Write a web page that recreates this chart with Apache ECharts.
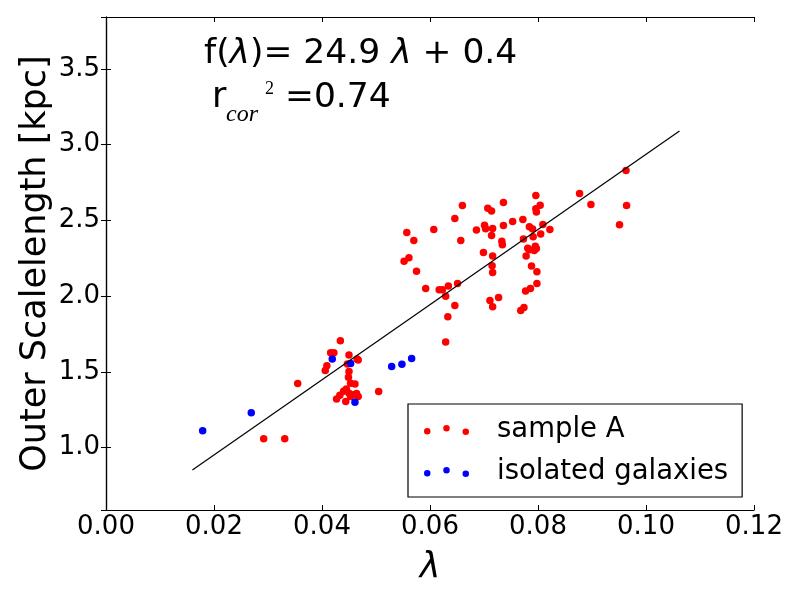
<!DOCTYPE html>
<html>
<head>
<meta charset="utf-8">
<title>Outer Scalelength vs lambda</title>
<script src="https://cdn.jsdelivr.net/npm/echarts@6/dist/echarts.min.js"></script>
<style>
    html, body { margin: 0; padding: 0; background: #fff; }
    #main { width: 800px; height: 600px; }
</style>
</head>
<body>
<div id="main"></div>
<script>
// sample A (red)
var sampleX = [0.0660, 0.0707, 0.0714, 0.0646, 0.0557, 0.0607, 0.0570, 0.0657, 0.0686, 0.0701,
    0.0703, 0.0716, 0.0714, 0.0736, 0.0736, 0.0733, 0.0734, 0.0552, 0.0561, 0.0575,
    0.0699, 0.0716, 0.0715, 0.0716, 0.0592, 0.0617, 0.0623, 0.0634, 0.0651, 0.0629,
    0.0646, 0.0633, 0.0711, 0.0716, 0.0727, 0.0629, 0.0963, 0.0877, 0.0898, 0.0964,
    0.0951, 0.0796, 0.0804, 0.0796, 0.0797, 0.0753, 0.0772, 0.0784, 0.0790, 0.0809,
    0.0822, 0.0805, 0.0791, 0.0773, 0.0781, 0.0784, 0.0793, 0.0795, 0.0797, 0.0778,
    0.0788, 0.0798, 0.0798, 0.0777, 0.0786, 0.0768, 0.0774, 0.0434, 0.0416, 0.0422,
    0.0450, 0.0465, 0.0467, 0.0447, 0.0409, 0.0406, 0.0450, 0.0449, 0.0453, 0.0461,
    0.0445, 0.0440, 0.0433, 0.0427, 0.0450, 0.0457, 0.0464, 0.0453, 0.0467, 0.0444,
    0.0355, 0.0505, 0.0292, 0.0331];
var sampleY = [2.598, 2.580, 2.563, 2.513, 2.421, 2.440, 2.367, 2.367, 2.437, 2.469,
    2.445, 2.446, 2.400, 2.618, 2.466, 2.363, 2.340, 2.230, 2.254, 2.164,
    2.289, 2.266, 2.201, 2.157, 2.050, 2.042, 2.042, 2.068, 2.083, 2.000,
    1.938, 1.865, 1.972, 1.931, 1.991, 1.698, 2.830, 2.678, 2.605, 2.598,
    2.472, 2.664, 2.601, 2.577, 2.555, 2.493, 2.506, 2.458, 2.443, 2.473,
    2.440, 2.410, 2.392, 2.378, 2.317, 2.306, 2.301, 2.330, 2.314, 2.266,
    2.200, 2.162, 2.083, 2.035, 2.050, 1.905, 1.925, 1.705, 1.627, 1.627,
    1.612, 1.586, 1.579, 1.553, 1.540, 1.509, 1.502, 1.465, 1.425, 1.421,
    1.388, 1.373, 1.346, 1.322, 1.359, 1.350, 1.357, 1.337, 1.337, 1.304,
    1.423, 1.370, 1.059, 1.059];

// isolated galaxies (blue)
var isoX = [0.0179, 0.0269, 0.0419, 0.0453, 0.0461, 0.0529, 0.0548, 0.0566];
var isoY = [1.112, 1.231, 1.586, 1.555, 1.300, 1.535, 1.551, 1.588];

// fit line end points
var fitX = [0.0160, 0.1062];
var fitY = [0.853, 3.090];

var seriesNames = ['sample A', 'isolated galaxies'];

function pairs(xs, ys) {
    var res = [];
    for (var i = 0; i < xs.length; i++) {
        res.push([xs[i], ys[i]]);
    }
    return res;
}

var FONT = 'DejaVu Sans';
// three dots, middle one raised a bit (like matplotlib scatter legend)
var dotsIcon = 'path://M0,6.25a3.25,3.25 0 1,0 6.5,0a3.25,3.25 0 1,0 -6.5,0Z' +
    'M19.25,3.25a3.25,3.25 0 1,0 6.5,0a3.25,3.25 0 1,0 -6.5,0Z' +
    'M38.5,6.75a3.25,3.25 0 1,0 6.5,0a3.25,3.25 0 1,0 -6.5,0Z';

var yMin = 0.5885, yMax = 3.843;

var tickStyle = { show: true, inside: true, length: 5, lineStyle: { color: '#000', width: 1 } };
var lineStyle = { show: true, lineStyle: { color: '#000', width: 1.2 } };

var myChart = echarts.init(document.getElementById('main'), null, { renderer: 'canvas' });
var option = {
    backgroundColor: '#fff',
    animation: false,
    textStyle: { fontFamily: FONT },
    grid: {
        left: 106, top: 17, width: 648, height: 493,
        containLabel: false,
        outerBoundsMode: 'none'
    },
    legend: {
        data: seriesNames,
        orient: 'vertical',
        left: 408,
        top: 404,
        icon: dotsIcon,
        itemWidth: 45,
        itemHeight: 10,
        itemGap: 14,
        padding: [12, 14, 11, 16],
        borderColor: '#000',
        borderWidth: 1.2,
        borderRadius: 0,
        backgroundColor: '#fff',
        textStyle: {
            fontFamily: FONT,
            fontSize: 27.5,
            lineHeight: 28,
            color: '#000',
            padding: [0, 0, 0, 23]
        }
    },
    xAxis: [
        {
            type: 'value',
            min: 0, max: 0.12, interval: 0.02,
            name: 'λ',
            nameLocation: 'middle',
            nameGap: 40,
            nameMoveOverlap: false,
            nameTextStyle: { fontFamily: FONT, fontSize: 35, fontStyle: 'italic', color: '#000' },
            axisLine: lineStyle,
            axisTick: tickStyle,
            splitLine: { show: false },
            axisLabel: {
                color: '#000', fontFamily: FONT, fontSize: 26, margin: 4,
                formatter: function (v) { return v.toFixed(2); }
            }
        },
        {
            type: 'value', position: 'top',
            min: 0, max: 0.12, interval: 0.02,
            axisLine: lineStyle,
            axisTick: tickStyle,
            splitLine: { show: false },
            axisLabel: { show: false }
        }
    ],
    yAxis: [
        {
            type: 'value',
            min: yMin, max: yMax,
            name: 'Outer Scalelength [kpc]',
            nameLocation: 'middle',
            nameGap: 53,
            nameMoveOverlap: false,
            nameTextStyle: { fontFamily: FONT, fontSize: 35, color: '#000' },
            axisLine: lineStyle,
            axisTick: tickStyle,
            splitLine: { show: false },
            axisLabel: {
                color: '#000', fontFamily: FONT, fontSize: 26, margin: 6,
                showMinLabel: false, showMaxLabel: false,
                formatter: function (v) {
                    if (Math.abs(v * 2 - Math.round(v * 2)) > 1e-6) return '';
                    return v.toFixed(1);
                }
            }
        },
        {
            type: 'value', position: 'right',
            min: yMin, max: yMax,
            axisLine: lineStyle,
            axisTick: tickStyle,
            splitLine: { show: false },
            axisLabel: { show: false }
        }
    ],
    series: [
        {
            name: seriesNames[0],
            type: 'scatter',
            symbol: 'circle',
            symbolSize: 7.5,
            itemStyle: { color: '#ff0000', opacity: 1 },
            data: pairs(sampleX, sampleY),
            z: 2
        },
        {
            name: seriesNames[1],
            type: 'scatter',
            symbol: 'circle',
            symbolSize: 7.5,
            itemStyle: { color: '#0000ff', opacity: 1 },
            data: pairs(isoX, isoY),
            z: 3
        },
        {
            name: 'fit',
            type: 'line',
            showSymbol: false,
            symbol: 'none',
            lineStyle: { color: '#000', width: 1.2 },
            data: pairs(fitX, fitY),
            z: 4
        }
    ],
    graphic: [
        {
            type: 'text', x: 204, y: 54,
            style: {
                text: '{n|f(}{l|λ}{n|)= 24.9 }{l|λ}{n| + 0.4}',
                fill: '#000',
                verticalAlign: 'middle',
                rich: {
                    n: { fontFamily: FONT, fontSize: 34.5, fill: '#000' },
                    l: { fontFamily: FONT, fontSize: 34.5, fontStyle: 'italic', fill: '#000' }
                }
            }
        },
        {
            type: 'text', x: 212, y: 98,
            style: { text: 'r', fontFamily: FONT, fontSize: 35, fill: '#000', verticalAlign: 'middle' }
        },
        {
            type: 'text', x: 226, y: 115,
            style: { text: 'cor', fontFamily: 'Liberation Serif', fontSize: 24, fontStyle: 'italic', fill: '#000', verticalAlign: 'middle' }
        },
        {
            type: 'text', x: 265, y: 89,
            style: { text: '2', fontFamily: 'Liberation Serif', fontSize: 18, fill: '#000', verticalAlign: 'middle' }
        },
        {
            type: 'text', x: 285, y: 98,
            style: { text: '=0.74', fontFamily: FONT, fontSize: 34.5, fill: '#000', verticalAlign: 'middle' }
        }
    ]
};
myChart.setOption(option);
</script>
</body>
</html>
